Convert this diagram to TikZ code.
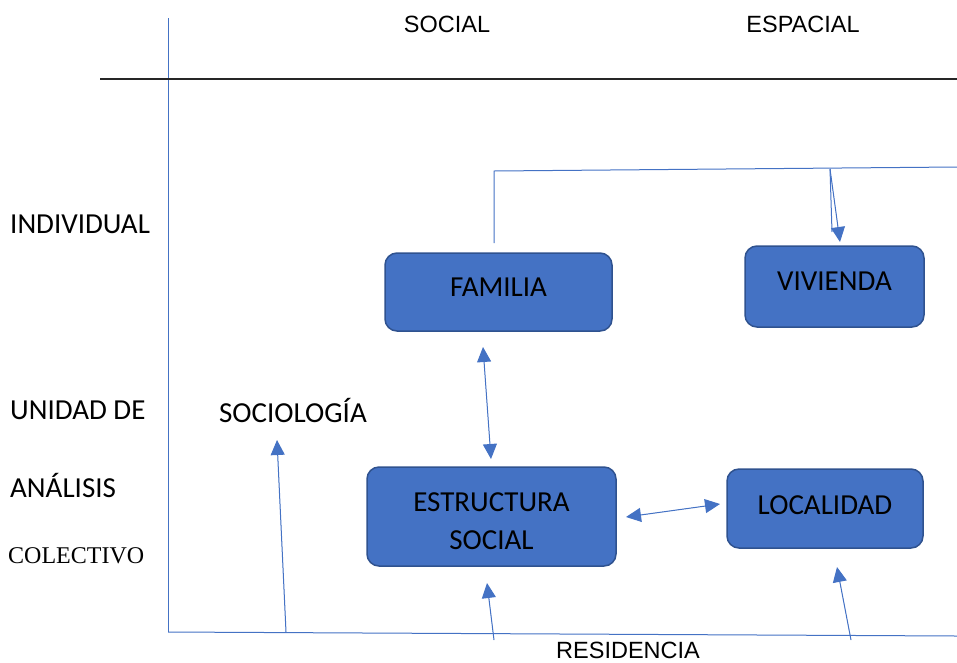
\documentclass[tikz,border=0pt]{standalone}
\usepackage{fontspec}
\setmainfont{Carlito}
\newfontfamily\arialf{Liberation Sans}
\newfontfamily\timesf{Liberation Serif}
\usetikzlibrary{arrows.meta}
\definecolor{boxfill}{HTML}{4472C4}
\definecolor{boxline}{HTML}{2F528F}
\definecolor{conn}{HTML}{4472C4}
\tikzset{
  boxnode/.style={draw=boxline, line width=1.5pt, fill=boxfill, rounded corners=12pt, align=center, inner sep=0pt, font=\fontsize{29}{38}\selectfont},
  lbl/.style={inner sep=0pt, font=\fontsize{29}{34}\selectfont, anchor=west},
  hdr/.style={inner sep=0pt, font=\arialf\fontsize{23.5}{28}\selectfont},
  conline/.style={draw=conn, line width=1pt},
  tip/.style={-{Triangle[length=15pt,width=14pt]}},
  dtip/.style={{Triangle[length=15pt,width=14pt]}-{Triangle[length=15pt,width=14pt]}}
}
\begin{document}
\begin{tikzpicture}[x=1pt,y=-1pt]
\useasboundingbox (0,0) rectangle (957,662);
% axes
\coordinate (vtop) at (168,18);
\coordinate (origin) at (168,632);
\coordinate (bend) at (957,636);
\coordinate (hl) at (100,79);
\coordinate (hr) at (957,79);
\draw[conline] (vtop) -- (origin);
\draw[conline] (origin) -- (bend);
\draw[line width=1.5pt, black!85] (hl) -- (hr);
% headers
\node[hdr] (social) at (447,24) {SOCIAL};
\node[hdr] (espacial) at (803,24) {ESPACIAL};
\node[hdr] (resid) at (628,650) {RESIDENCIA};
% left labels
\node[lbl] (indiv) at (10,224) {INDIVIDUAL};
\node[lbl] (unidad) at (10,410) {UNIDAD DE};
\node[lbl] (analisis) at (10,485) {ANÁLISIS};
\node[inner sep=0pt, anchor=west, font=\timesf\fontsize{24}{28}\selectfont] (colect) at (8,556) {COLECTIVO};
\node[inner sep=0pt, font=\fontsize{29}{34}\selectfont] (socio) at (293,410) {SOCIOLOGÍA};
% boxes
\node[boxnode, minimum width=227pt, minimum height=78pt] (familia) at (498.5,292) {\smash{\raisebox{-4.2pt}{FAMILIA}}};
\node[boxnode, minimum width=179pt, minimum height=81pt] (vivienda) at (834.5,286.5) {\smash{\raisebox{-3.7pt}{VIVIENDA}}};
\node[boxnode, minimum width=249pt, minimum height=99pt] (estruc) at (491.5,516.5) {\smash{\raisebox{-32.7pt}{\begin{tabular}[b]{@{}c@{}}ESTRUCTURA\\SOCIAL\end{tabular}}}};
\node[boxnode, minimum width=196pt, minimum height=79pt] (local) at (825,508.5) {\smash{\raisebox{-5.7pt}{LOCALIDAD}}};
% connector coordinates
\coordinate (f0) at (494,243);
\coordinate (t1) at (494,171);
\coordinate (t2) at (957,167);
\coordinate (v0) at (830,169);
\coordinate (v1) at (840,242);
\coordinate (v2) at (832,232);
\coordinate (fe1) at (483,347);
\coordinate (fe2) at (491,459);
\coordinate (el1) at (626,517);
\coordinate (el2) at (720,504);
\coordinate (s0) at (286,632);
\coordinate (s1) at (277,440);
\coordinate (r0) at (494,640);
\coordinate (r1) at (487,583);
\coordinate (l0) at (851,640);
\coordinate (l1) at (837,567);
% connectors
\draw[conline] (f0) -- (t1) -- (t2);
\draw[conline] (v0) -- (v2);
\draw[conline, tip, fill=conn] (v0) -- (v1);
\draw[conline, dtip, fill=conn] (fe1) -- (fe2);
\draw[conline, dtip, fill=conn] (el1) -- (el2);
\draw[conline, tip, fill=conn] (s0) -- (s1);
\draw[conline, tip, fill=conn] (r0) -- (r1);
\draw[conline, tip, fill=conn] (l0) -- (l1);
\end{tikzpicture}
\end{document}
